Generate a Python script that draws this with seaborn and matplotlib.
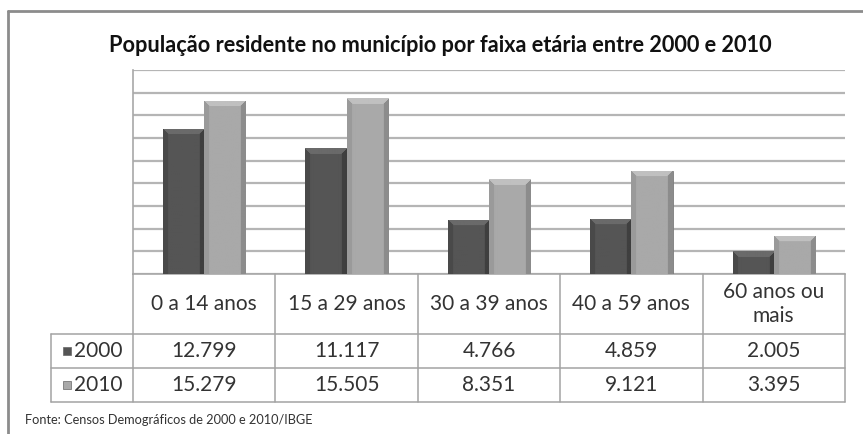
import numpy as np
import pandas as pd
import matplotlib
matplotlib.use("Agg")
import matplotlib.pyplot as plt
from matplotlib.lines import Line2D
from matplotlib.patches import Rectangle
import seaborn as sns

# ---- data ----
categories = ["0 a 14 anos", "15 a 29 anos", "30 a 39 anos", "40 a 59 anos", "60 anos ou\nmais"]
series_names = ["2000", "2010"]
pop_2000 = [12799, 11117, 4766, 4859, 2005]
pop_2010 = [15279, 15505, 8351, 9121, 3395]
title = "População residente no município por faixa etária entre 2000 e 2010"
source = "Fonte: Censos Demográficos de 2000 e 2010/IBGE"

colors = {"2000": "#555555", "2010": "#a9a9a9"}
top_colors = {"2000": "#6a6a6a", "2010": "#c0c0c0"}
side_colors = {"2000": "#3f3f3f", "2010": "#8c8c8c"}

df = pd.DataFrame({
    "faixa": categories * 2,
    "ano": [series_names[0]] * len(categories) + [series_names[1]] * len(categories),
    "pop": pop_2000 + pop_2010,
})

sns.set_theme(style="white")
plt.rcParams["font.family"] = ["Lato", "DejaVu Sans"]

W, H = 863, 434
fig = plt.figure(figsize=(W / 100, H / 100), dpi=100)
fig.patch.set_facecolor("white")

def fx(x):
    return x / W

def fy(y):
    return 1 - y / H

L, R, T, B = 133, 845, 70, 274
ax = fig.add_axes([fx(L), fy(B), fx(R) - fx(L), fy(T) - fy(B)])

sns.barplot(data=df, x="faixa", y="pop", hue="ano", palette=colors,
            width=0.58, ax=ax, legend=False, saturation=1, zorder=3)

ymax = 18000
ax.set_ylim(0, ymax)
ax.set_xlim(-0.5, len(categories) - 0.5)
ax.set_yticks(np.arange(0, ymax + 1, 2000))
ax.yaxis.grid(True, color="#b5b5b5", lw=1.6, zorder=0)
ax.set_axisbelow(True)
ax.tick_params(left=False, bottom=False, labelleft=False, labelbottom=False)
ax.set_xlabel("")
ax.set_ylabel("")
for s in ["top", "right"]:
    ax.spines[s].set_visible(False)
for s in ["left", "bottom"]:
    ax.spines[s].set_color("#a8a8a8")
    ax.spines[s].set_linewidth(1.2)

# bevel shading on each bar
px_per_unit = (B - T) / ymax
data_per_px_x = (len(categories)) / (R - L)
patches = list(ax.patches)
n = len(categories)
for i, p in enumerate(patches):
    key = series_names[0] if i < n else series_names[1]
    x0, w, h = p.get_x(), p.get_width(), p.get_height()
    if h <= 0:
        continue
    wpx = max(int(round(w / data_per_px_x)), 2)
    hpx = max(int(round(h * px_per_unit)), 2)
    base = np.array(matplotlib.colors.to_rgb(colors[key]))
    topc = np.array(matplotlib.colors.to_rgb(top_colors[key]))
    side = np.array(matplotlib.colors.to_rgb(side_colors[key]))
    img = np.zeros((hpx, wpx, 3))
    b = 6
    for r in range(hpx):
        for c in range(wpx):
            dl, dr, dt = c, wpx - 1 - c, r
            if dt < b and dt <= min(dl, dr):
                col = topc
            elif dl < b * 0.7:
                col = side * 0.5 + base * 0.5
            elif dr < b * 0.7:
                col = side
            else:
                col = base
            img[r, c] = col
    im = ax.imshow(img, extent=(x0, x0 + w, 0, h), aspect="auto",
                   interpolation="bilinear", zorder=4, origin="upper")
    im.set_clip_path(p)
    p.set_edgecolor("#444444" if key == "2000" else "#7a7a7a")
    p.set_linewidth(0.6)
ax.set_ylim(0, ymax)
ax.set_xlim(-0.5, len(categories) - 0.5)

# ---- data table ----
lc = "#a3a3a3"
def hline(y, x1, x2, lw=1.1, color=lc):
    fig.add_artist(Line2D([fx(x1), fx(x2)], [fy(y), fy(y)], color=color, lw=lw))
def vline(x, y1, y2, lw=1.1, color=lc):
    fig.add_artist(Line2D([fx(x), fx(x)], [fy(y1), fy(y2)], color=color, lw=lw))

col_w = (R - L) / n
row_hdr_bot, row1_bot, row2_bot = 334, 368, 402
legend_left = 51
for k in range(n + 1):
    vline(L + k * col_w, B, row2_bot)
vline(legend_left, row_hdr_bot, row2_bot)
for y in (row_hdr_bot, row1_bot, row2_bot):
    hline(y, legend_left, R)

tc = "#333333"
fs = 15
for k, cat in enumerate(categories):
    cx = L + (k + 0.5) * col_w
    fig.text(fx(cx), fy((B + row_hdr_bot) / 2), cat, ha="center", va="center",
             fontsize=fs, color=tc, linespacing=1.25)

def fmt(v):
    return f"{v:,}".replace(",", ".")

rows = [(series_names[0], pop_2000, (row_hdr_bot + row1_bot) / 2),
        (series_names[1], pop_2010, (row1_bot + row2_bot) / 2)]
for name, vals, cy in rows:
    for k, v in enumerate(vals):
        cx = L + (k + 0.5) * col_w
        fig.text(fx(cx), fy(cy), fmt(v), ha="center", va="center",
                 fontsize=fs, color=tc)
    fig.patches.append(Rectangle((fx(63), fy(cy + 4)), fx(8), 8 / H,
                                 transform=fig.transFigure,
                                 facecolor=colors[name], edgecolor="#666666", lw=0.5))
    fig.text(fx(74), fy(cy), name, ha="left", va="center", fontsize=fs, color=tc)

# title and source
fig.text(fx(440), fy(45), title, ha="center", va="center", fontsize=15.7,
         fontweight="bold", color="#111111")
fig.text(fx(25), fy(420), source, ha="left", va="center", fontsize=9.2, color="#333333")

# outer frame
fig.add_artist(Line2D([fx(8), fx(8)], [fy(11), 0], color="#8c8c8c", lw=2))
fig.add_artist(Line2D([fx(8), 1], [fy(11), fy(11)], color="#8c8c8c", lw=2))

fig.savefig("out.png", dpi=100, facecolor="white")
